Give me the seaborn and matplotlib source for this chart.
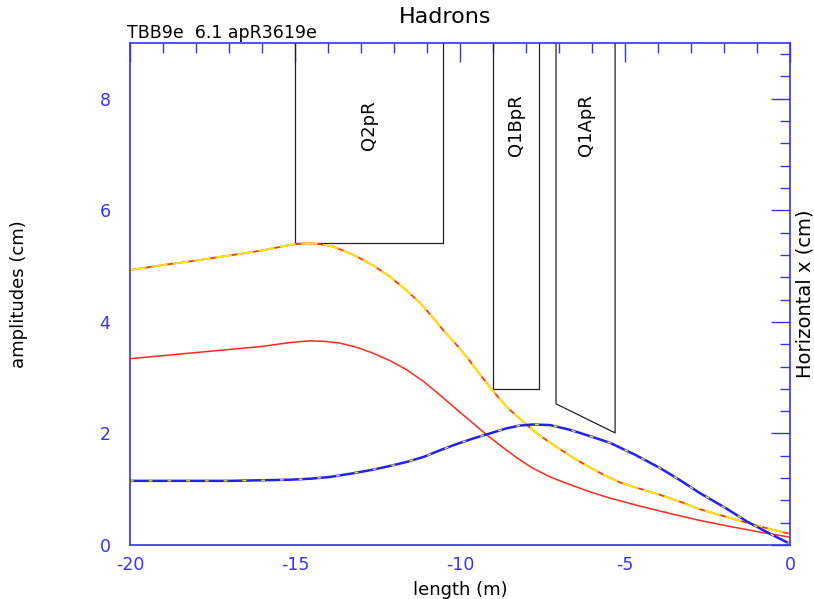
import numpy as np
import pandas as pd
import matplotlib
matplotlib.use("Agg")
import matplotlib.pyplot as plt
from matplotlib.ticker import MultipleLocator
import seaborn as sns

# envelope curve (red with yellow dashes)
s_env = [-20, -19, -18, -17, -16, -15.15, -14.85, -14.55, -14.2, -13.85, -13.5,
         -13.12, -12.6, -12.12, -11.65, -11.21, -10.85, -10.52, -10.15, -9.79,
         -9.45, -9.09, -8.8, -8.5, -8.2, -7.97, -7.58, -7.0, -6.5, -6.15, -5.65,
         -5.15, -4.5, -3.94, -3.3, -2.73, -2.2, -1.73, -1.2, -0.7, 0]
a_env = [4.93, 5.02, 5.10, 5.19, 5.28, 5.38, 5.40, 5.41, 5.39, 5.35, 5.27,
         5.17, 5.00, 4.81, 4.58, 4.34, 4.10, 3.86, 3.62, 3.37,
         3.10, 2.83, 2.62, 2.43, 2.27, 2.15, 1.96, 1.73, 1.54, 1.42, 1.26,
         1.12, 1.00, 0.90, 0.77, 0.64, 0.55, 0.47, 0.38, 0.30, 0.20]

# beam size curve (red solid)
s_beam = [-20, -18, -16, -15.15, -14.55, -14.1, -13.64, -13.1, -12.64, -12.1,
          -11.61, -11.1, -10.61, -10.1, -9.6, -9.18, -8.7, -8.27, -7.8, -7.27,
          -6.7, -6.1, -5.45, -4.5, -3.6, -2.73, -1.8, -0.9, 0]
a_beam = [3.34, 3.45, 3.56, 3.63, 3.66, 3.65, 3.62, 3.54, 3.44, 3.30,
          3.14, 2.93, 2.69, 2.43, 2.18, 1.97, 1.75, 1.56, 1.38, 1.22,
          1.09, 0.96, 0.84, 0.69, 0.56, 0.44, 0.33, 0.23, 0.14]

# horizontal x curve (blue with yellow dashes)
s_x = [-20, -17, -15.15, -14.5, -13.94, -13.3, -12.64, -12.1, -11.61, -11.1,
       -10.6, -10.1, -9.6, -9.09, -8.6, -8.2, -7.8, -7.27, -6.7, -6.1, -5.45,
       -4.7, -3.94, -3.3, -2.73, -2.0, -1.3, -0.6, 0]
a_x = [1.15, 1.15, 1.17, 1.19, 1.22, 1.28, 1.35, 1.42, 1.49, 1.58,
       1.70, 1.81, 1.91, 2.00, 2.09, 2.14, 2.16, 2.15, 2.07, 1.96, 1.83,
       1.62, 1.38, 1.15, 0.93, 0.68, 0.42, 0.20, 0.02]

# magnet elements: name, start, end, aperture at start, aperture at end
elem_names = ["Q2pR", "Q1BpR", "Q1ApR"]
elem_start = [-15.0, -9.0, -7.09]
elem_end = [-10.52, -7.61, -5.30]
elem_ap_in = [5.42, 2.80, 2.53]
elem_ap_out = [5.42, 2.80, 2.01]

blue = "#3333ff"
fig = plt.figure(figsize=(8.14, 5.99), dpi=100)
sns.set_style("white")
plt.rcParams["font.family"] = ["DejaVu Sans"]
plt.rcParams["text.color"] = "black"
plt.rcParams["axes.labelcolor"] = "black"
plt.rcParams["axes.unicode_minus"] = False
ax = fig.add_axes([130 / 814, 54 / 599, 660 / 814, 502 / 599])

ymax = 9.0
# element outlines
for name, s0, s1, a0, a1 in zip(elem_names, elem_start, elem_end, elem_ap_in, elem_ap_out):
    ax.plot([s0, s0, s1, s1], [ymax, a0, a1, ymax], color="#222222", lw=0.9)
    ax.text(s0 + (s1 - s0) * 0.5, 7.52, name, rotation=90, ha="center",
            va="center", fontsize=13, color="black")

df_env = pd.DataFrame({"s": s_env, "a": a_env})
df_beam = pd.DataFrame({"s": s_beam, "a": a_beam})
df_x = pd.DataFrame({"s": s_x, "a": a_x})

sns.lineplot(data=df_beam, x="s", y="a", color="#ff2a1a", lw=1.1, ax=ax)
sns.lineplot(data=df_env, x="s", y="a", color="#ff3311", lw=1.3, ax=ax)
sns.lineplot(data=df_env, x="s", y="a", color="#ffee00", lw=1.3, ax=ax)
ax.lines[-1].set_dashes([9, 3])
sns.lineplot(data=df_x, x="s", y="a", color="#2222ee", lw=1.8, ax=ax)
sns.lineplot(data=df_x, x="s", y="a", color="#ffee00", lw=0.9, ax=ax)
ax.lines[-1].set_dashes([3, 12])

ax.set_xlim(-20, 0)
ax.set_ylim(0, ymax)
ax.xaxis.set_major_locator(MultipleLocator(5))
ax.xaxis.set_minor_locator(MultipleLocator(1))
ax.yaxis.set_major_locator(MultipleLocator(2))
ax.yaxis.set_minor_locator(MultipleLocator(0.4))
ax.tick_params(which="both", direction="in", top=True, right=True, color=blue,
               labelcolor=blue, labelsize=12.5, width=1.0)
ax.tick_params(which="major", length=14)
ax.tick_params(which="minor", length=7)
ax.tick_params(axis="x", pad=8)
ax.tick_params(axis="y", pad=14)
for sp in ax.spines.values():
    sp.set_color(blue)
    sp.set_linewidth(1.2)

ax.set_xlabel("length (m)", fontsize=13)
ax.xaxis.set_label_coords(0.5, -0.072)
ax.set_ylabel("amplitudes (cm)", fontsize=13)
ax.yaxis.set_label_coords(-0.155, 0.5)
ax.text(1.023, 0.5, "Horizontal x (cm)", transform=ax.transAxes, rotation=90,
        ha="center", va="center", fontsize=14)

fig.text(445 / 814, 1 - 17 / 599, "Hadrons", ha="center", va="center", fontsize=16)
fig.text(127 / 814, 1 - 33 / 599, "TBB9e  6.1 apR3619e", ha="left", va="center",
         fontsize=12.5)

fig.savefig("out.png", dpi=100)
